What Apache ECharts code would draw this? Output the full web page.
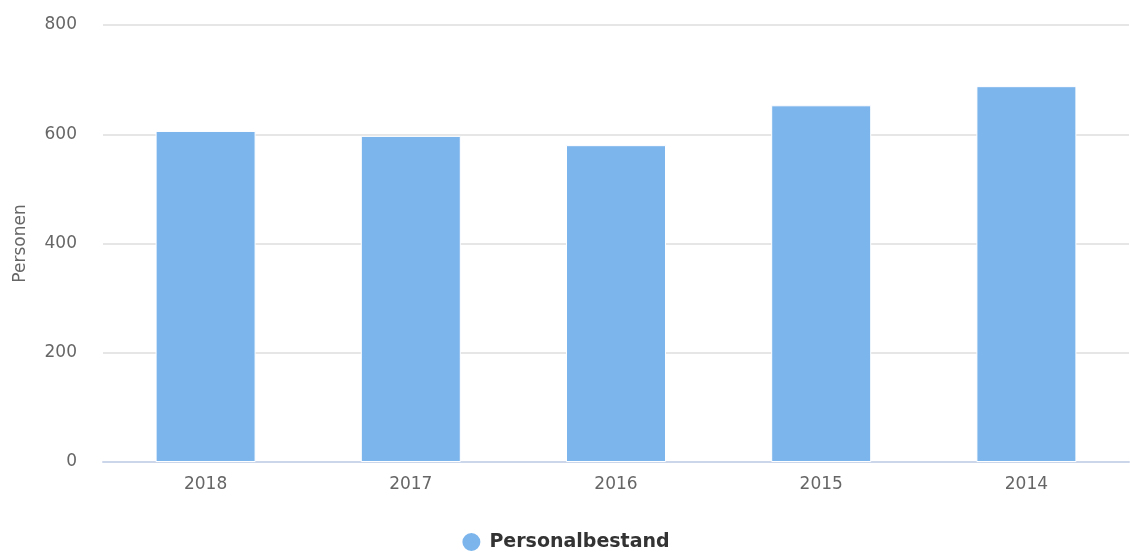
<!DOCTYPE html>
<html>
<head>
<meta charset="utf-8">
<script src="https://cdn.jsdelivr.net/npm/echarts@6/dist/echarts.min.js"></script>
<style>
html,body{margin:0;padding:0;background:#fff;}
#chart{width:1130px;height:552px;}
</style>
</head>
<body>
<div id="chart"></div>
<script>
var years = ['2018', '2017', '2016', '2015', '2014'];
var personal = [606, 597, 580, 653, 688];
var yTicks = [0, 200, 400, 600, 800];

var myChart = echarts.init(document.getElementById('chart'));
var option = {
    animation: false,
    textStyle: {
        fontFamily: '"DejaVu Sans", "Open Sans", sans-serif'
    },
    grid: {
        left: 103,
        right: 1,
        top: 25,
        bottom: 90
    },
    legend: {
        bottom: -6,
        left: 'center',
        icon: 'circle',
        itemWidth: 20,
        itemHeight: 20,
        itemGap: 10,
        textStyle: {
            color: '#333',
            fontSize: 19,
            fontWeight: 'bold',
            padding: [0, 0, 0, 3]
        },
        data: ['Personalbestand']
    },
    xAxis: {
        type: 'category',
        data: years,
        axisLine: {
            lineStyle: { color: '#ccd6eb', width: 2 }
        },
        axisTick: { show: false },
        axisLabel: {
            color: '#666',
            fontSize: 17,
            margin: 14
        }
    },
    yAxis: {
        type: 'value',
        min: yTicks[0],
        max: yTicks[yTicks.length - 1],
        interval: 200,
        name: 'Personen',
        nameLocation: 'middle',
        nameGap: 74,
        nameTextStyle: {
            color: '#666',
            fontSize: 17
        },
        axisLine: { show: false },
        axisTick: { show: false },
        splitLine: {
            lineStyle: { color: '#e6e6e6', width: 2 }
        },
        axisLabel: {
            color: '#666',
            fontSize: 17,
            margin: 26,
            padding: [0, 0, 8, 0]
        }
    },
    series: [
        {
            type: 'bar',
            name: 'Personalbestand',
            barWidth: 100,
            itemStyle: {
                color: '#7cb5ec',
                borderColor: '#ffffff',
                borderWidth: 1
            },
            data: personal
        }
    ]
};
myChart.setOption(option);
</script>
</body>
</html>
